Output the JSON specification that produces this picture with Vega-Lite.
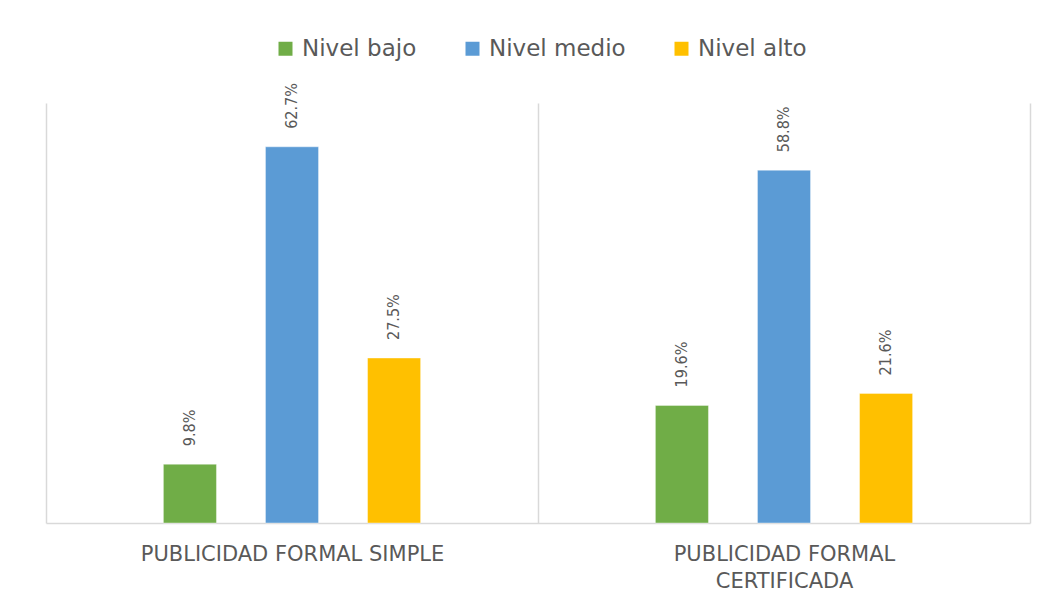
{
  "$schema": "https://vega.github.io/schema/vega-lite/v6.json",
  "width": 984,
  "height": 420,
  "autosize": {"type": "none"},
  "padding": {"left": 46, "top": 103, "right": 30, "bottom": 81},
  "background": "white",
  "data": {
    "values": [
      {"cat": "PUBLICIDAD FORMAL SIMPLE", "nivel": "Nivel bajo", "v": 0.098},
      {"cat": "PUBLICIDAD FORMAL SIMPLE", "nivel": "Nivel medio", "v": 0.627},
      {"cat": "PUBLICIDAD FORMAL SIMPLE", "nivel": "Nivel alto", "v": 0.275},
      {"cat": "PUBLICIDAD FORMAL CERTIFICADA", "nivel": "Nivel bajo", "v": 0.196},
      {"cat": "PUBLICIDAD FORMAL CERTIFICADA", "nivel": "Nivel medio", "v": 0.588},
      {"cat": "PUBLICIDAD FORMAL CERTIFICADA", "nivel": "Nivel alto", "v": 0.216}
    ]
  },
  "encoding": {
    "x": {
      "field": "cat",
      "type": "nominal",
      "sort": ["PUBLICIDAD FORMAL SIMPLE", "PUBLICIDAD FORMAL CERTIFICADA"],
      "scale": {"paddingInner": 0, "paddingOuter": 0},
      "axis": {
        "title": null,
        "labelAngle": 0,
        "grid": true,
        "tickBand": "extent",
        "gridColor": "#d9d9d9",
        "gridWidth": 1.5,
        "domainColor": "#d9d9d9",
        "domainWidth": 1.5,
        "ticks": false,
        "labelFont": "DejaVu Sans",
        "labelFontSize": 21,
        "labelColor": "#595959",
        "labelPadding": 20,
        "labelLineHeight": 27,
        "labelBaseline": "top",
        "labelLimit": 0,
        "labelExpr": "datum.value == 'PUBLICIDAD FORMAL CERTIFICADA' ? ['PUBLICIDAD FORMAL', 'CERTIFICADA'] : datum.value"
      }
    },
    "xOffset": {
      "field": "nivel",
      "type": "nominal",
      "scale": {"domain": ["_izq", "Nivel bajo", "Nivel medio", "Nivel alto", "_der"], "paddingInner": 0.48, "paddingOuter": 0.15}
    },
    "y": {
      "field": "v",
      "type": "quantitative",
      "scale": {"domain": [0, 0.7], "nice": false},
      "axis": null
    },
    "color": {
      "field": "nivel",
      "type": "nominal",
      "sort": ["Nivel bajo", "Nivel medio", "Nivel alto"],
      "scale": {"domain": ["Nivel bajo", "Nivel medio", "Nivel alto"], "range": ["#70ad47", "#5b9bd5", "#ffc000"]},
      "legend": {
        "title": null,
        "orient": "none",
        "direction": "horizontal",
        "legendX": 228,
        "legendY": -66,
        "symbolType": "square",
        "symbolSize": 196,
        "symbolStrokeWidth": 0,
        "labelFont": "DejaVu Sans",
        "labelFontSize": 23,
        "labelColor": "#595959",
        "labelOffset": 5,
        "columnPadding": 44
      }
    }
  },
  "layer": [
    {"mark": {"type": "bar", "stroke": "white", "strokeOpacity": 0.4, "strokeWidth": 1}},
    {
      "mark": {
        "type": "text",
        "angle": -90,
        "align": "left",
        "baseline": "middle",
        "dx": 18,
        "font": "DejaVu Sans Condensed, DejaVu Sans",
        "fontSize": 16,
        "color": "#595959"
      },
      "encoding": {
        "text": {"field": "v", "type": "quantitative", "format": ".1%"},
        "color": {"value": "#595959"}
      }
    }
  ],
  "config": {"view": {"stroke": null}}
}
